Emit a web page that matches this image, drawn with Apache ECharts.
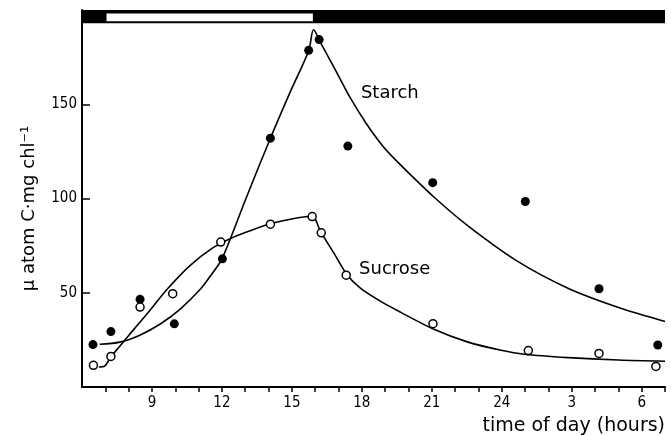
<!DOCTYPE html>
<html>
<head>
<meta charset="utf-8">
<script src="https://cdn.jsdelivr.net/npm/echarts@6/dist/echarts.min.js"></script>
<style>
  html, body { margin: 0; padding: 0; background: #fff; }
  #chart { width: 671px; height: 436px; }
</style>
</head>
<body>
<div id="chart"></div>
<script>
// measured points (hour of day, 24+ = next day)
const starchHours = [6.47, 7.24, 8.49, 9.96, 12.02, 14.08, 15.72, 16.17, 17.40, 21.04, 25.01, 28.17, 30.69];
const starchValues = [22.5, 29.4, 46.5, 33.5, 68.0, 132.0, 178.6, 184.3, 127.8, 108.4, 98.4, 52.1, 22.3];
const sucroseHours = [6.49, 7.24, 8.49, 9.89, 11.95, 14.08, 15.87, 16.26, 17.33, 21.05, 25.14, 28.17, 30.61];
const sucroseValues = [11.5, 16.2, 42.4, 49.5, 76.9, 86.4, 90.4, 81.8, 59.3, 33.6, 19.3, 17.8, 10.9];

// hand drawn fitted curves
const starchCurveHours = [6.76, 7.62, 8.48, 9.34, 10.20, 11.06, 11.58, 12.01, 13.04, 14.08, 14.94, 15.72, 15.93, 16.23, 16.88, 17.52, 18.21, 18.94, 19.67, 21.09, 22.55, 24.70, 26.86, 29.01, 31.0];
const starchCurveValues = [22.7, 23.8, 27.5, 33.3, 41.2, 51.7, 60.2, 68.1, 100.3, 132.0, 156.8, 178.4, 189.5, 182.7, 167.9, 153.1, 139.4, 127.2, 117.7, 100.8, 85.5, 66.5, 52.3, 42.2, 34.8];
const sucroseCurveHours = [6.72, 6.97, 7.23, 7.62, 8.26, 8.91, 9.64, 10.63, 11.62, 12.35, 13.21, 14.08, 14.94, 15.59, 15.89, 16.23, 16.79, 17.39, 17.95, 18.81, 19.67, 21.09, 22.55, 23.97, 24.96, 26.85, 29.01, 31.0];
const sucroseCurveValues = [10.6, 11.1, 15.8, 21.6, 31.1, 40.6, 51.7, 64.4, 73.9, 78.7, 82.9, 86.6, 89.0, 90.3, 90.5, 82.4, 71.3, 59.1, 52.3, 45.4, 39.6, 30.6, 23.8, 19.5, 17.4, 15.6, 14.3, 13.7];

const lightPeriod = [7.05, 15.9];
const xTickLabels = [9, 12, 15, 18, 21, 24, 27, 30];
const xTicks = [7, 8, 9, 10, 11, 12, 13, 14, 15, 16, 17, 18, 19, 20, 21, 22, 23, 24, 25, 26, 27, 28, 29, 30, 31];
const yTickLabels = [50, 100, 150];

function zip(a, b) {
  return a.map((v, i) => [v, b[i]]);
}

let myChart = echarts.init(document.getElementById('chart'));
let option = {
  animation: false,
  backgroundColor: '#fff',
  textStyle: { fontFamily: 'DejaVu Sans' },
  grid: {
    left: 82,
    right: 6,
    top: 10,
    bottom: 49,
    containLabel: false,
  },
  xAxis: {
    type: 'value',
    min: 6,
    max: 31,
    interval: 1,
    name: 'time of day (hours)',
    nameLocation: 'end',
    nameGap: 0,
    nameTextStyle: {
      fontSize: 19,
      color: '#000',
      align: 'right',
      verticalAlign: 'top',
      padding: [30, 0, 0, 0],
    },
    axisLine: { lineStyle: { color: '#000', width: 2 } },
    axisTick: {
      customValues: xTicks,
      length: 5,
      lineStyle: { color: '#000', width: 1.5 },
    },
    axisLabel: {
      customValues: xTickLabels,
      margin: 9,
      fontSize: 15,
      fontFamily: 'Liberation Sans Narrow, DejaVu Sans Condensed, sans-serif',
      color: '#000',
      formatter: (v) => (v > 24 ? v - 24 : v) + '',
    },
    splitLine: { show: false },
  },
  yAxis: {
    type: 'value',
    min: 0,
    max: 200,
    interval: 50,
    name: 'μ atom C·mg chl⁻¹',
    nameLocation: 'middle',
    nameGap: 44,
    nameRotate: 90,
    nameTextStyle: {
      fontSize: 18,
      color: '#000',
      padding: [0, 20, 0, 0],
    },
    axisLine: { show: true, lineStyle: { color: '#000', width: 2 } },
    axisTick: {
      show: true,
      inside: true,
      customValues: yTickLabels,
      length: 8,
      lineStyle: { color: '#000', width: 1.5 },
    },
    axisLabel: {
      customValues: yTickLabels,
      margin: 5,
      fontSize: 15,
      fontFamily: 'Liberation Sans Narrow, DejaVu Sans Condensed, sans-serif',
      color: '#000',
    },
    splitLine: { show: false },
  },
  series: [
    {
      name: 'Starch curve',
      type: 'line',
      data: zip(starchCurveHours, starchCurveValues),
      smooth: 0.3,
      symbol: 'none',
      lineStyle: { color: '#000', width: 1.6 },
      z: 2,
      markArea: {
        silent: true,
        data: [
          [
            { xAxis: 6, yAxis: 193, itemStyle: { color: '#000', opacity: 1 } },
            { xAxis: 31, yAxis: 200 },
          ],
          [
            { xAxis: lightPeriod[0], yAxis: 194, itemStyle: { color: '#fff', opacity: 1 } },
            { xAxis: lightPeriod[1], yAxis: 198.2 },
          ],
        ],
      },
    },
    {
      name: 'Sucrose curve',
      type: 'line',
      data: zip(sucroseCurveHours, sucroseCurveValues),
      smooth: 0.3,
      symbol: 'none',
      lineStyle: { color: '#000', width: 1.6 },
      z: 2,
    },
    {
      name: 'Starch',
      type: 'scatter',
      data: zip(starchHours, starchValues),
      symbol: 'circle',
      symbolSize: 9,
      itemStyle: { color: '#000', opacity: 1 },
      z: 3,
      markPoint: {
        symbol: 'circle',
        symbolSize: 0,
        silent: true,
        label: { show: true, fontSize: 18, color: '#000', formatter: 'Starch' },
        data: [{ coord: [19.2, 155.8] }],
      },
    },
    {
      name: 'Sucrose',
      type: 'scatter',
      data: zip(sucroseHours, sucroseValues),
      symbol: 'circle',
      symbolSize: 8,
      itemStyle: { color: '#fff', borderColor: '#000', borderWidth: 1.5, opacity: 1 },
      z: 3,
      markPoint: {
        symbol: 'circle',
        symbolSize: 0,
        silent: true,
        label: { show: true, fontSize: 18, color: '#000', formatter: 'Sucrose' },
        data: [{ coord: [19.41, 62.3] }],
      },
    },
  ],
};
myChart.setOption(option, true);
window.addEventListener('resize', () => {
  myChart.resize();
});
</script>
</body>
</html>
